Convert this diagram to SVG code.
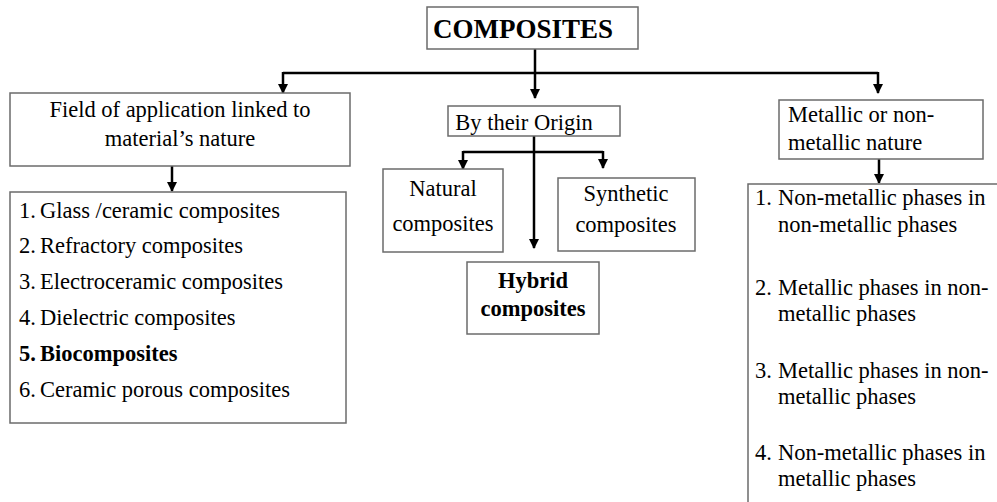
<svg xmlns="http://www.w3.org/2000/svg" width="997" height="502" viewBox="0 0 997 502">
<defs>
<marker id="ah" markerUnits="userSpaceOnUse" markerWidth="10" markerHeight="12" refX="9" refY="5" orient="auto">
<path d="M0,0 L10,5 L0,10 Z" fill="#000"/>
</marker>
<style>
.box{fill:#fff;stroke:#6b6b6b;stroke-width:1.5}
.t{font-family:'Liberation Serif','Times New Roman',serif;font-size:22.5px;fill:#000}
.b{font-weight:bold}
.c{text-anchor:middle}
.ln{fill:none;stroke:#000;stroke-width:2.5}
</style>
</defs>
<rect width="997" height="502" fill="#fff"/>
<g id="connectors">
<path class="ln" d="M283,73 H878"/>
<path class="ln" d="M535,49 V98" marker-end="url(#ah)"/>
<path class="ln" d="M283,72 V93" marker-end="url(#ah)"/>
<path class="ln" d="M878,72 V93" marker-end="url(#ah)"/>
<path class="ln" d="M172,166 V191" marker-end="url(#ah)"/>
<path class="ln" d="M879,159 V183" marker-end="url(#ah)"/>
<path class="ln" d="M534,136 V248" marker-end="url(#ah)"/>
<path class="ln" d="M463,152 H603"/>
<path class="ln" d="M463,151 V169" marker-end="url(#ah)"/>
<path class="ln" d="M603,151 V168" marker-end="url(#ah)"/>
</g>
<g id="composites">
<rect class="box" x="427" y="7" width="211" height="42"/>
<text class="t b" x="433" y="38" style="font-size:27px">COMPOSITES</text>
</g>
<g id="field">
<rect class="box" x="10" y="93" width="340" height="73"/>
<text class="t c" x="180" y="117">Field of application linked to</text>
<text class="t c" x="180" y="146">material’s nature</text>
</g>
<g id="field-list">
<rect class="box" x="10" y="192" width="336" height="231"/>
<text class="t" x="19" y="218">1.</text><text class="t" x="40" y="218">Glass /ceramic composites</text>
<text class="t" x="19" y="253">2.</text><text class="t" x="40" y="253">Refractory composites</text>
<text class="t" x="19" y="289">3.</text><text class="t" x="40" y="289">Electroceramic composites</text>
<text class="t" x="19" y="325">4.</text><text class="t" x="40" y="325">Dielectric composites</text>
<text class="t b" x="19" y="361">5.</text><text class="t b" x="40" y="361">Biocomposites</text>
<text class="t" x="19" y="397">6.</text><text class="t" x="40" y="397">Ceramic porous composites</text>
</g>
<g id="origin">
<rect class="box" x="448" y="106" width="172" height="30"/>
<text class="t c" x="524" y="130">By their Origin</text>
</g>
<g id="natural">
<rect class="box" x="383" y="169" width="120" height="83"/>
<text class="t c" x="443" y="196">Natural</text>
<text class="t c" x="443" y="231">composites</text>
</g>
<g id="synthetic">
<rect class="box" x="558" y="178" width="137" height="73"/>
<text class="t c" x="626" y="201">Synthetic</text>
<text class="t c" x="626" y="232">composites</text>
</g>
<g id="hybrid">
<rect class="box" x="467" y="262" width="132" height="72"/>
<text class="t b c" x="533" y="288">Hybrid</text>
<text class="t b c" x="533" y="316">composites</text>
</g>
<g id="metallic">
<rect class="box" x="779" y="100" width="204" height="59"/>
<text class="t" x="788" y="122">Metallic or non-</text>
<text class="t" x="788" y="150">metallic nature</text>
</g>
<g id="metallic-list">
<path class="box" d="M997,184 H748 V502" fill="none"/>
<text class="t" x="755" y="205">1.</text><text class="t" x="778" y="205">Non-metallic phases in</text>
<text class="t" x="778" y="232">non-metallic phases</text>
<text class="t" x="755" y="295">2.</text><text class="t" x="778" y="295">Metallic phases in non-</text>
<text class="t" x="778" y="321">metallic phases</text>
<text class="t" x="755" y="378">3.</text><text class="t" x="778" y="378">Metallic phases in non-</text>
<text class="t" x="778" y="404">metallic phases</text>
<text class="t" x="755" y="460">4.</text><text class="t" x="778" y="460">Non-metallic phases in</text>
<text class="t" x="778" y="486">metallic phases</text>
</g>
</svg>
